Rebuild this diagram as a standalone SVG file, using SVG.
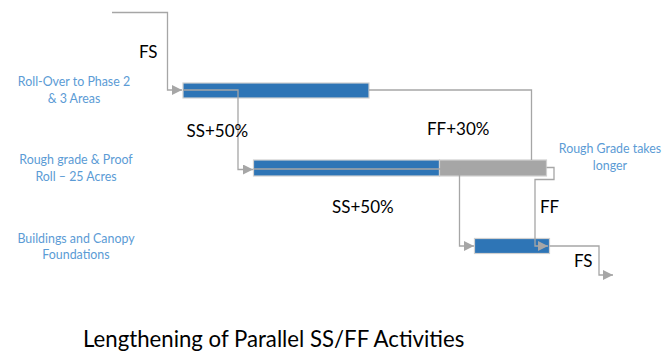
<svg xmlns="http://www.w3.org/2000/svg" width="671" height="358" viewBox="0 0 671 358">
<style>
.conn{fill:none;stroke:#a6a6a6;stroke-width:1.3}
.bar{fill:#2e75b6;stroke:#d0d0d0;stroke-width:1.2}
.gbar{fill:#a6a6a6;stroke:#d0d0d0;stroke-width:1.2}
.lab{font-family:Lato,"Liberation Sans",sans-serif;font-size:17px;fill:#000}
.side{font-family:Lato,"Liberation Sans",sans-serif;font-size:12.4px;fill:#5b9bd5;text-anchor:middle}
.title{font-family:Lato,"Liberation Sans",sans-serif;font-size:22.2px;fill:#000}
</style>
<defs>
<marker id="arr" viewBox="0 0 10 10" refX="10" refY="5" markerWidth="10" markerHeight="10" markerUnits="userSpaceOnUse" orient="auto">
<path d="M0,0 L10,5 L0,10 z" fill="#a6a6a6"/>
</marker>
</defs>
<rect width="671" height="358" fill="#fff"/>
<g id="bar1"><rect class="bar" x="183" y="83" width="186" height="15"/></g>
<g id="bar2"><rect class="bar" x="253.5" y="160" width="186" height="16"/><rect class="gbar" x="439.5" y="160" width="107" height="16"/></g>
<g id="bar3"><rect class="bar" x="474.5" y="238.5" width="75" height="15"/></g>
<g id="connectors">
<path class="conn" d="M112,12.5 H167.5 V90 H182" marker-end="url(#arr)"/>
<path class="conn" d="M183,90 H238 V169.5 H253" marker-end="url(#arr)"/>
<path class="conn" d="M369,90 H531.5 V160"/>
<path class="conn" d="M253.5,169 H459.5 V246 H474" marker-end="url(#arr)"/>
<path class="conn" d="M546.5,167.5 H554 V179.5 H535 V246 H548" marker-end="url(#arr)"/>
<path class="conn" d="M549.5,246 H599 V275 H613" marker-end="url(#arr)"/>
</g>
<g id="labels">
<text class="lab" x="139" y="58">FS</text>
<text class="lab" x="186.5" y="136.5">SS+50%</text>
<text class="lab" x="427" y="135">FF+30%</text>
<text class="lab" x="332" y="213">SS+50%</text>
<text class="lab" x="540" y="213">FF</text>
<text class="lab" x="574" y="267">FS</text>
</g>
<g id="task-names">
<text class="side" x="74" y="86">Roll-Over to Phase 2</text>
<text class="side" x="74" y="103">&amp; 3 Areas</text>
<text class="side" x="76" y="164">Rough grade &amp; Proof</text>
<text class="side" x="76" y="181">Roll – 25 Acres</text>
<text class="side" x="76" y="243">Buildings and Canopy</text>
<text class="side" x="76" y="259">Foundations</text>
<text class="side" x="610" y="153">Rough Grade takes</text>
<text class="side" x="610" y="170">longer</text>
</g>
<text class="title" x="83" y="347">Lengthening of Parallel SS/FF Activities</text>
</svg>
